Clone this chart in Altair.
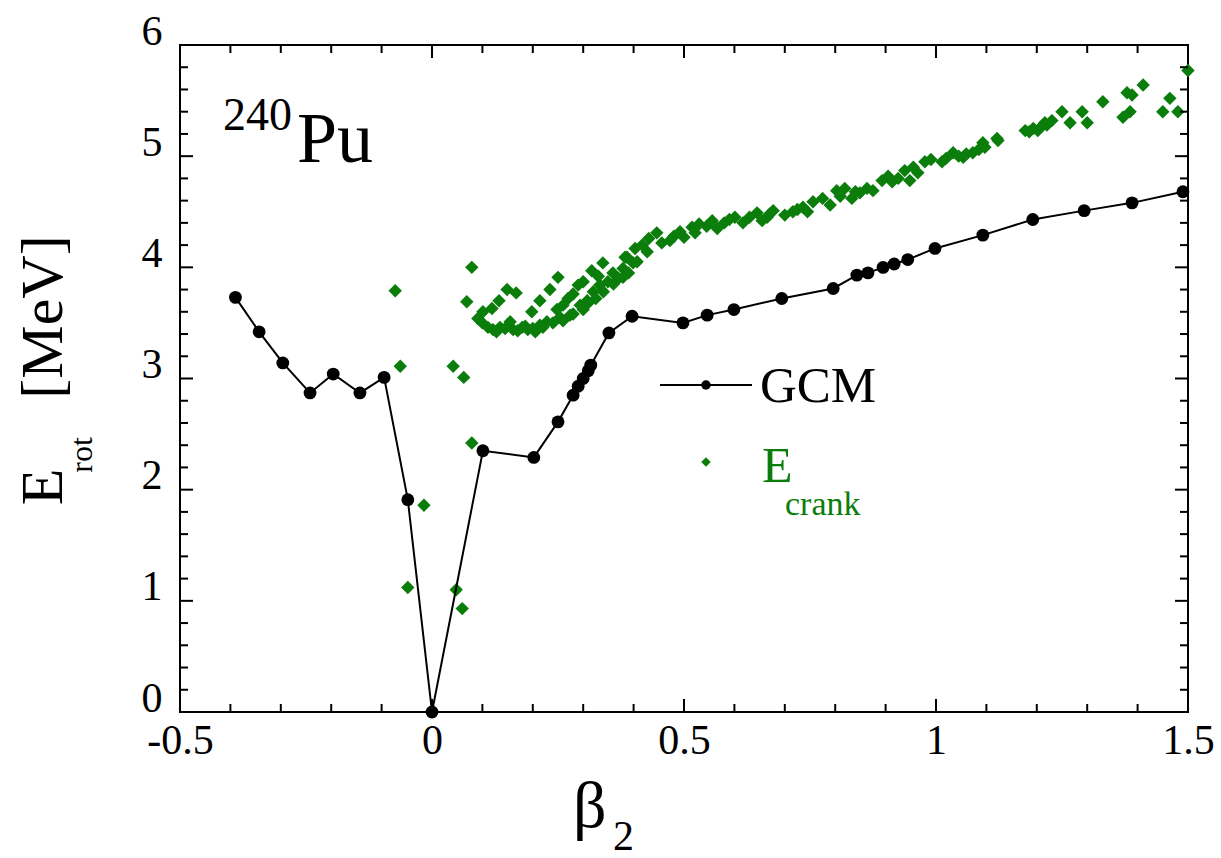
import altair as alt
import pandas as pd

FONT = "Liberation Serif"
GREEN = "#0b7d0b"

# GCM curve
gcm_x = [-0.39, -0.343, -0.296, -0.242, -0.196, -0.143, -0.095, -0.048, 0.0, 0.101, 0.202, 0.25,
         0.28, 0.29, 0.30, 0.31, 0.315, 0.351, 0.397, 0.498, 0.546, 0.599, 0.694, 0.796, 0.843,
         0.865, 0.895, 0.917, 0.944, 0.998, 1.093, 1.192, 1.294, 1.389, 1.49]
gcm_y = [3.73, 3.42, 3.14, 2.87, 3.04, 2.87, 3.01, 1.91, 0.0, 2.35, 2.29, 2.61,
         2.85, 2.93, 3.00, 3.07, 3.12, 3.41, 3.56, 3.50, 3.57, 3.62, 3.72, 3.81, 3.93,
         3.95, 4.00, 4.03, 4.07, 4.17, 4.29, 4.43, 4.51, 4.58, 4.68]

# E_crank points
crank_x = [-0.073, -0.063, -0.016, -0.048, 0.042, 0.063, 0.048, 0.06, 0.079, 0.069, 0.079,
           0.091, 0.101, 0.111, 0.119, 0.121, 0.133, 0.135, 0.149, 0.155, 0.161, 0.167, 0.179,
           0.19, 0.198, 0.20, 0.214, 0.214, 0.228, 0.234, 0.248, 0.25, 0.254, 0.27, 0.274, 0.29,
           0.294, 0.308, 0.317, 0.32, 0.333, 0.339, 0.349, 0.359, 0.379, 0.383, 0.399, 0.403,
           0.10, 0.128, 0.145, 0.17, 0.185, 0.205, 0.22, 0.24, 0.26, 0.28, 0.30, 0.31, 0.325,
           0.34, 0.36, 0.37, 0.39, 0.26, 0.28, 0.30, 0.33,
           0.379, 0.387, 0.407, 0.417, 0.427, 0.446, 0.456, 0.472, 0.492, 0.516, 0.522, 0.556,
           0.566, 0.601, 0.617, 0.645, 0.665, 0.677, 0.716, 0.736, 0.756,
           0.43, 0.48, 0.50, 0.53, 0.545, 0.58, 0.59, 0.63, 0.655, 0.67, 0.70, 0.725, 0.745,
           0.79, 0.803, 0.819, 0.833, 0.849, 0.863, 0.893, 0.913, 0.938, 0.948, 0.964, 0.978,
           1.012, 1.034, 1.054, 1.073, 1.093, 1.121,
           0.775, 0.81, 0.84, 0.875, 0.905, 0.925, 0.955, 0.99, 1.02, 1.045, 1.06, 1.085,
           1.097, 1.123, 1.177, 1.193, 1.202, 1.216, 1.230, 1.250, 1.266, 1.290, 1.300, 1.331,
           1.371, 1.385, 1.379, 1.389, 1.411, 1.450, 1.464, 1.480, 1.500, 1.185, 1.21, 1.22]
crank_y = [3.79, 3.11, 1.86, 1.12, 3.11, 3.01, 1.10, 0.93, 4.00, 3.69, 2.42,
           3.54, 3.60, 3.46, 3.63, 3.44, 3.70, 3.46, 3.80, 3.51, 3.44, 3.77, 3.46,
           3.44, 3.60, 3.45, 3.48, 3.70, 3.51, 3.80, 3.62, 3.91, 3.55, 3.72, 3.57, 3.84,
           3.66, 3.70, 3.97, 3.78, 3.84, 4.04, 3.87, 3.95, 3.99, 4.09, 4.04, 4.17,
           3.50, 3.42, 3.45, 3.43, 3.47, 3.42, 3.46, 3.50, 3.52, 3.58, 3.62, 3.68, 3.72,
           3.78, 3.85, 3.90, 3.95, 3.66, 3.76, 3.87, 3.92,
           3.91, 4.09, 4.05, 4.20, 4.14, 4.31, 4.22, 4.24, 4.32, 4.36, 4.31, 4.42,
           4.35, 4.45, 4.40, 4.49, 4.45, 4.51, 4.50, 4.54, 4.59,
           4.26, 4.28, 4.27, 4.39, 4.37, 4.40, 4.43, 4.45, 4.42, 4.48, 4.47, 4.52, 4.50,
           4.56, 4.69, 4.71, 4.62, 4.67, 4.71, 4.78, 4.77, 4.87, 4.78, 4.85, 4.95,
           4.95, 5.03, 4.99, 5.03, 5.12, 5.16,
           4.62, 4.64, 4.68, 4.69, 4.82, 4.80, 4.90, 4.97, 4.98, 5.00, 5.02, 5.06,
           5.08, 5.14, 5.23, 5.25, 5.23, 5.30, 5.32, 5.40, 5.30, 5.40, 5.30, 5.49,
           5.35, 5.40, 5.57, 5.55, 5.64, 5.40, 5.52, 5.40, 5.77, 5.22, 5.27, 5.28]

# tick values
x_major = [-0.5, 0.0, 0.5, 1.0, 1.5]
x_minor = [-0.4, -0.3, -0.2, -0.1, 0.1, 0.2, 0.3, 0.4, 0.6, 0.7, 0.8, 0.9,
           1.1, 1.2, 1.3, 1.4]
y_major = [0, 1, 2, 3, 4, 5, 6]
y_minor = [0.2, 0.4, 0.6, 0.8, 1.2, 1.4, 1.6, 1.8, 2.2, 2.4, 2.6, 2.8, 3.2, 3.4, 3.6, 3.8,
           4.2, 4.4, 4.6, 4.8, 5.2, 5.4, 5.6, 5.8]

W, H = 1008, 667
MAJ, MIN = 13, 8

gcm_df = pd.DataFrame({"x": gcm_x, "y": gcm_y, "i": range(len(gcm_x))})
crank_df = pd.DataFrame({"x": crank_x, "y": crank_y})
xmaj_df = pd.DataFrame({"x": x_major})
xmin_df = pd.DataFrame({"x": x_minor})
ymaj_df = pd.DataFrame({"y": y_major})
ymin_df = pd.DataFrame({"y": y_minor})

xscale = alt.Scale(domain=[-0.5, 1.5], nice=False, zero=False)
yscale = alt.Scale(domain=[0, 6], nice=False, zero=False)
xaxis = alt.Axis(values=x_major, labelExpr="'' + datum.value", title=None, grid=False,
                 ticks=False, domain=False, labelFont=FONT, labelFontSize=42,
                 labelColor="black", labelPadding=8, labelFlush=False)
yaxis = alt.Axis(values=y_major, labelExpr="'' + datum.value", title=None, grid=False,
                 ticks=False, domain=False, labelFont=FONT, labelFontSize=42,
                 labelColor="black", labelPadding=18, labelOffset=-14, labelFlush=False)

X = lambda: alt.X("x:Q", scale=xscale, axis=xaxis)
Y = lambda: alt.Y("y:Q", scale=yscale, axis=yaxis)

line = alt.Chart(gcm_df).mark_line(color="black", strokeWidth=2).encode(
    x=X(), y=Y(), order="i:Q")
dots = alt.Chart(gcm_df).mark_circle(color="black", size=165, opacity=1).encode(x=X(), y=Y())
crank = alt.Chart(crank_df).mark_point(shape="diamond", filled=True, color=GREEN,
                                       size=180, opacity=1).encode(x=X(), y=Y())

def xticks(df, length):
    bot = alt.Chart(df).mark_rule(color="black", strokeWidth=2).encode(
        x=X(), y=alt.value(H), y2=alt.value(H - length))
    top = alt.Chart(df).mark_rule(color="black", strokeWidth=2).encode(
        x=X(), y=alt.value(0), y2=alt.value(length))
    return [bot, top]

def yticks(df, length):
    left = alt.Chart(df).mark_rule(color="black", strokeWidth=2).encode(
        y=Y(), x=alt.value(0), x2=alt.value(length))
    right = alt.Chart(df).mark_rule(color="black", strokeWidth=2).encode(
        y=Y(), x=alt.value(W), x2=alt.value(W - length))
    return [left, right]

ticks = xticks(xmaj_df, MAJ) + xticks(xmin_df, MIN) + yticks(ymaj_df, MAJ) + yticks(ymin_df, MIN)

one = pd.DataFrame({"a": [0]})

def txt(text, x, y, size, color="black", angle=0, align="left", baseline="alphabetic"):
    kw = dict(text=text, font=FONT, fontSize=size, color=color, align=align,
              baseline=baseline)
    if angle:
        kw["angle"] = angle
    return alt.Chart(one).mark_text(**kw).encode(x=alt.value(x), y=alt.value(y))

legend_line = alt.Chart(one).mark_rule(color="black", strokeWidth=2).encode(
    x=alt.value(480), x2=alt.value(572), y=alt.value(340))
legend_dot = alt.Chart(one).mark_circle(color="black", size=90, opacity=1).encode(
    x=alt.value(526), y=alt.value(340))
legend_dia = alt.Chart(one).mark_point(shape="diamond", filled=True, color=GREEN,
                                       size=90, opacity=1).encode(
    x=alt.value(526), y=alt.value(417))

texts = [
    txt("GCM", 580, 357, 51),
    txt("E", 582, 437, 50, color=GREEN),
    txt("crank", 605, 470, 34, color=GREEN),
    txt("240", 43, 85, 46),
    txt("Pu", 117, 117, 72),
    txt("β", 393, 782, 66),
    txt("2", 433, 805, 42),
    txt("E", -118, 442, 60, angle=270, align="center"),
    txt("rot", -88, 410, 32, angle=270, align="center"),
    txt("[MeV]", -118, 272, 60, angle=270, align="center"),
]

chart = alt.layer(
    crank, line, dots, *ticks, legend_line, legend_dot, legend_dia, *texts
).properties(
    width=W, height=H,
    autosize=alt.AutoSizeParams(type="none"),
    padding={"left": 180, "top": 45, "right": 33, "bottom": 146},
    background="white",
).configure_view(stroke="black", strokeWidth=2)

chart.save("out.html", embed_options={"renderer": "svg", "actions": False})
